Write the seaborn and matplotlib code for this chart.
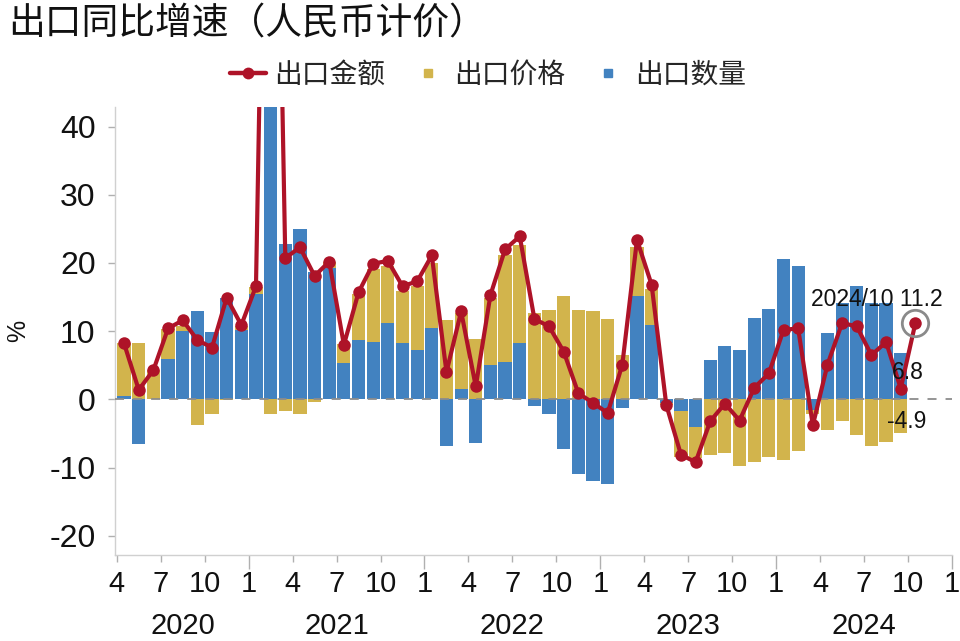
import numpy as np
import pandas as pd
import matplotlib
matplotlib.use("Agg")
import matplotlib.pyplot as plt
import matplotlib.transforms as mtransforms
import seaborn as sns
from matplotlib.lines import Line2D

# ---------------- data ----------------
months = pd.period_range("2020-04", "2024-10", freq="M")

# 出口金额 (export value, YoY %)
export_value = [8.2, 1.4, 4.3, 10.4, 11.6, 8.7, 7.6, 14.9, 10.9,
                16.6, 135.0, 20.7, 22.3, 18.1, 20.2, 8.0, 15.7, 19.9, 20.3, 16.6, 17.3,
                21.1, 4.0, 12.9, 1.9, 15.3, 22.0, 23.9, 11.8, 10.7, 7.0, 0.9, -0.5,
                -2.0, 5.1, 23.4, 16.8, -0.8, -8.1, -9.2, -3.2, -0.6, -3.1, 1.7, 3.8,
                10.2, 10.4, -3.8, 5.1, 11.2, 10.7, 6.5, 8.4, 1.6, 11.2]

# 出口价格 (price contribution)
export_price = [7.7, 8.3, 4.3, 4.4, 0.7, -3.8, -2.1, -0.1, 0.6,
                1.1, -2.1, -1.7, -2.2, -0.4, 0.8, 2.8, 6.7, 10.7, 8.3, 7.6, 9.4,
                9.6, 11.7, 11.1, 8.9, 9.7, 15.7, 14.3, 12.7, 13.1, 15.2, 13.1, 13.0,
                11.8, 6.5, 7.1, 5.3, -0.3, -6.7, -4.5, -8.2, -7.9, -9.7, -9.2, -8.5,
                -8.9, -7.5, -0.5, -4.5, -3.2, -5.2, -6.9, -6.3, -4.9, np.nan]

# 出口数量 (quantity contribution)
export_qty = [0.5, -6.5, 0.0, 5.9, 10.1, 12.9, 9.9, 14.9, 10.2,
              15.4, 137.0, 22.8, 25.0, 18.7, 19.3, 5.3, 8.7, 8.4, 11.2, 8.3, 7.2,
              10.4, -6.9, 1.6, -6.4, 5.1, 5.5, 8.3, -0.9, -2.1, -7.3, -10.9, -12.0,
              -12.4, -1.3, 15.2, 10.9, -0.5, -1.7, -4.1, 5.8, 7.8, 7.3, 12.0, 13.2,
              20.6, 19.6, -1.6, 9.8, 14.1, 16.6, 14.2, 14.2, 6.8, np.nan]

tick_month_labels = ["4", "7", "10", "1"] * 5
year_labels = ["2020", "2021", "2022", "2023", "2024"]

series_names = ["出口金额", "出口价格", "出口数量"]
title_text = "出口同比增速（人民币计价）"

# ---------------- style ----------------
RED = "#AE1328"
YELLOW = "#D2B44C"
BLUE = "#4282C0"
GRAY = "#8c8c8c"

sns.set_theme(style="white")
plt.rcParams["font.family"] = ["Liberation Sans", "Noto Sans CJK SC", "DejaVu Sans"]
plt.rcParams["axes.unicode_minus"] = False

df = pd.DataFrame({
    "idx": np.arange(len(months)),
    "value": export_value,
    "price": export_price,
    "qty": export_qty,
})

fig = plt.figure(figsize=(9.6, 6.41), dpi=100)
ax = fig.add_axes([0.1198, 0.1342, 0.8719, 0.6993])

q = df["qty"].to_numpy()
p = df["price"].to_numpy()
x = df["idx"].to_numpy()
price_bottom = np.where(p >= 0, np.maximum(q, 0), np.minimum(q, 0))

ax.bar(x, q, width=0.9, color=BLUE, linewidth=0, zorder=2)
ax.bar(x, p, bottom=price_bottom, width=0.9, color=YELLOW, linewidth=0, zorder=2)

ax.axhline(0, color=GRAY, lw=1.3, ls=(0, (5, 5)), zorder=3)

sns.lineplot(data=df, x="idx", y="value", ax=ax, color=RED, lw=3.0,
             marker="o", markersize=9, markeredgewidth=0, estimator=None,
             zorder=4, legend=False)

# highlight circle on latest point
ax.plot(x[-1], export_value[-1], marker="o", markersize=19, markerfacecolor="none",
        markeredgecolor="#8a8a8a", markeredgewidth=2, zorder=5, clip_on=False)

# annotations
ax.text(51.4, 14.6, "2024/10 11.2", fontsize=16.5, ha="center", va="center",
        color="#111111", zorder=6)
ax.text(53.5, 4.0, f"{export_qty[-2]:.1f}", fontsize=16.5, ha="center", va="center",
        color="#111111", zorder=6)
ax.text(53.4, -3.2, f"{export_price[-2]:.1f}", fontsize=16.5, ha="center", va="center",
        color="#111111", zorder=6)

# axes limits / ticks
ax.set_xlim(-0.62, 56.5)
ax.set_ylim(-22.8, 42.9)
ax.set_yticks([-20, -10, 0, 10, 20, 30, 40])
ax.tick_params(axis="y", direction="out", length=5, width=1, color="#b0b0b0",
               labelsize=23, pad=9, labelcolor="#111111", left=True)

xt = np.arange(-0.5, 57, 3)
ax.set_xticks(xt)
ax.set_xticklabels(tick_month_labels)
ax.tick_params(axis="x", direction="out", length=5, width=1, color="#b0b0b0",
               labelsize=21, pad=6, labelcolor="#111111", bottom=True)
for lbl, t in zip(tick_month_labels, ax.xaxis.get_major_ticks()):
    if lbl == "1":
        t.tick1line.set_markersize(10)

ax.set_xlabel("")
ax.set_ylabel("")

for s in ["top", "right"]:
    ax.spines[s].set_visible(False)
for s in ["left", "bottom"]:
    ax.spines[s].set_color("#d0d0d0")
    ax.spines[s].set_linewidth(1)

# year labels
trans = mtransforms.blended_transform_factory(ax.transData, ax.transAxes)
year_centers = [4.0, 14.5, 26.5, 38.5, 50.5]
for yc, yl in zip(year_centers, year_labels):
    ax.text(yc, -0.158, yl, transform=trans, ha="center", va="center",
            fontsize=21, color="#111111")

# y label
fig.text(18 / 960, 1 - 331 / 641, "%", rotation=90, ha="center", va="center",
         fontsize=18, color="#111111")

# title
fig.text(8 / 960, 1 - 24 / 641, title_text, ha="left", va="center",
         fontsize=26.5, color="#111111", family=["Noto Sans CJK SC", "DejaVu Sans"])

# legend
handles = [
    Line2D([0], [0], color=RED, lw=3.2, marker="o", markersize=8.5, markeredgewidth=0),
    Line2D([0], [0], color=YELLOW, lw=0, marker="s", markersize=6),
    Line2D([0], [0], color=BLUE, lw=0, marker="s", markersize=6),
]
fig.legend(handles, series_names, loc="center", bbox_to_anchor=(0.508, 0.883),
           ncol=3, frameon=False, handlelength=1.3, handletextpad=0.3,
           columnspacing=0.9, prop={"family": ["Noto Sans CJK SC", "DejaVu Sans"],
                                    "size": 20})

fig.savefig("out.png", dpi=100)
